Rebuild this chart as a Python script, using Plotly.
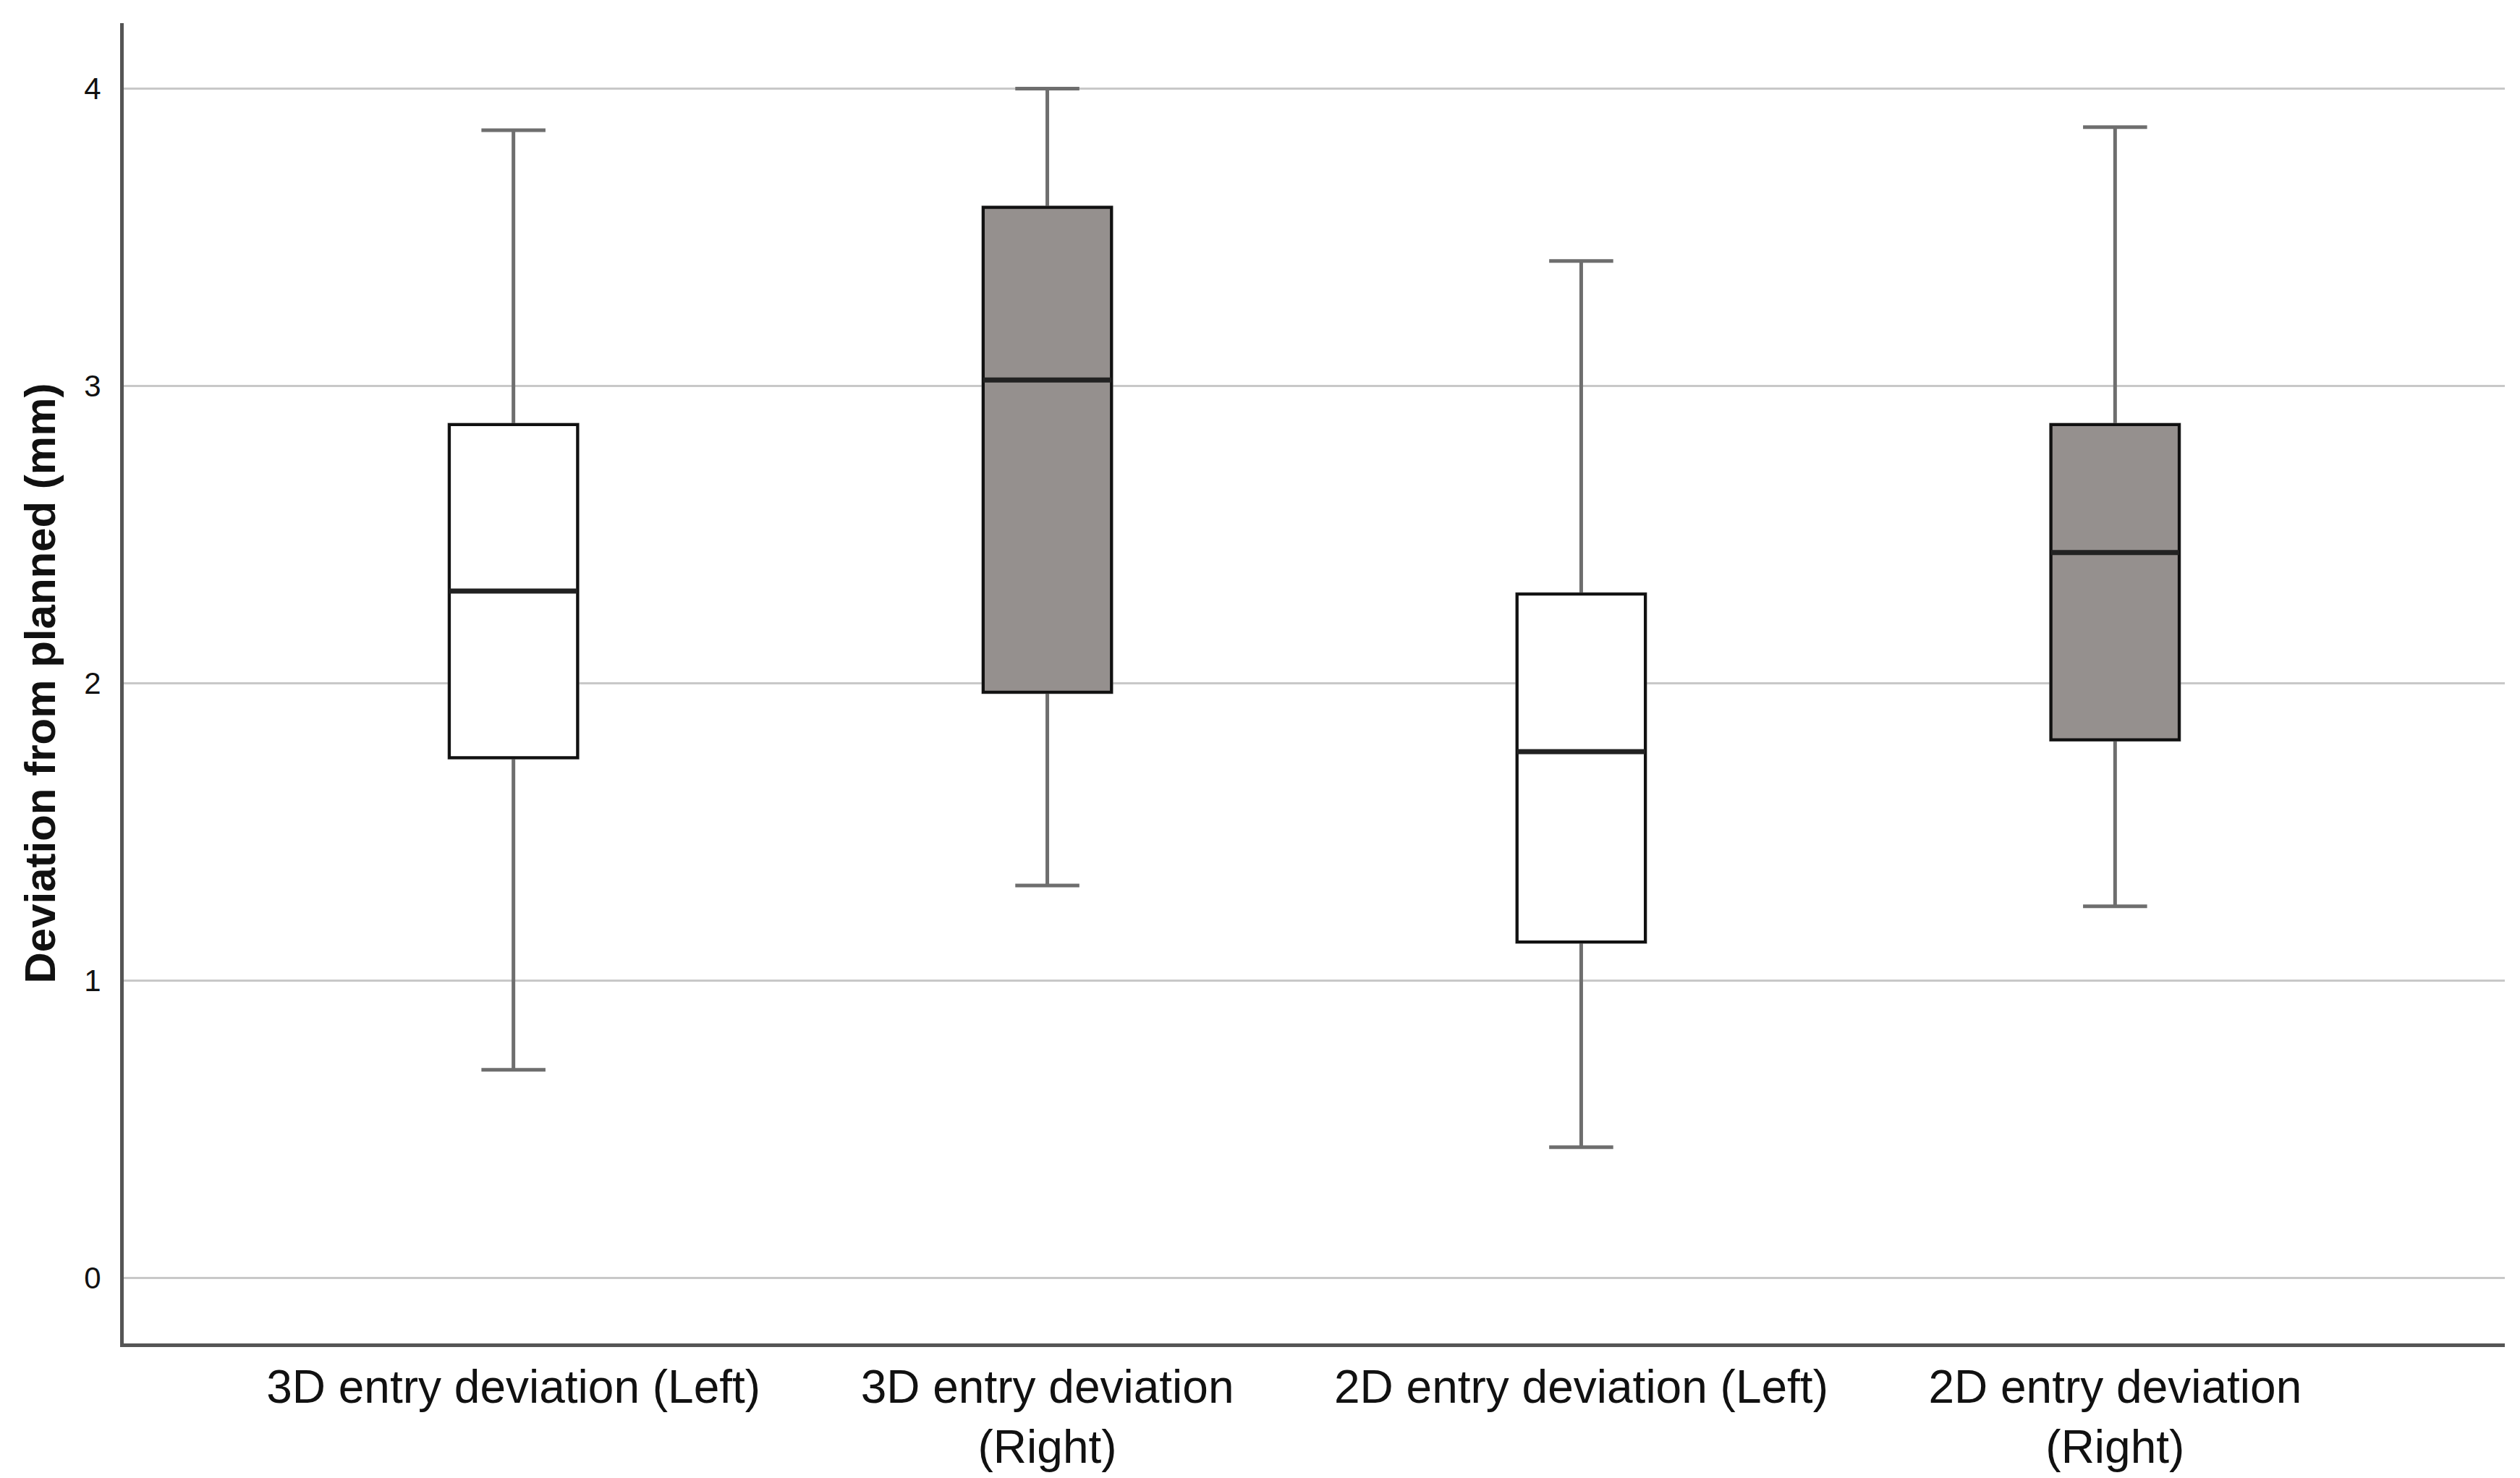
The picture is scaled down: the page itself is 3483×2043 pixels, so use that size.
import plotly.graph_objects as go

# Box summaries (mm)
categories = [
    "3D entry deviation (Left)",
    "3D entry deviation<br>(Right)",
    "2D entry deviation (Left)",
    "2D entry deviation<br>(Right)",
]
lower_whisker = [0.70, 1.32, 0.44, 1.25]
q1_values = [1.75, 1.97, 1.13, 1.81]
medians = [2.31, 3.02, 1.77, 2.44]
q3_values = [2.87, 3.60, 2.30, 2.87]
upper_whisker = [3.86, 4.00, 3.42, 3.87]
fill_colors = ["#ffffff", "#95908e", "#ffffff", "#95908e"]

FONT = "Liberation Sans, Arial, sans-serif"


def make_figure():
    fig = go.Figure()

    for i, cat in enumerate(categories):
        # whiskers and caps in grey
        fig.add_trace(go.Box(
            x=[cat], q1=[q1_values[i]], median=[medians[i]], q3=[q3_values[i]],
            lowerfence=[lower_whisker[i]], upperfence=[upper_whisker[i]],
            width=0.24, whiskerwidth=0.5,
            fillcolor=fill_colors[i],
            line=dict(color="#6e6e6e", width=5),
            boxpoints=False, showlegend=False, hoverinfo="skip",
        ))
        # box body with black outline
        fig.add_trace(go.Box(
            x=[cat], q1=[q1_values[i]], median=[medians[i]], q3=[q3_values[i]],
            lowerfence=[q1_values[i]], upperfence=[q3_values[i]],
            width=0.24, whiskerwidth=0,
            fillcolor=fill_colors[i],
            line=dict(color="#111111", width=4),
            boxpoints=False, showlegend=False,
        ))
        # thicker median line
        fig.add_trace(go.Box(
            x=[cat], q1=[medians[i]], median=[medians[i]], q3=[medians[i]],
            lowerfence=[medians[i]], upperfence=[medians[i]],
            width=0.24, whiskerwidth=0,
            fillcolor="rgba(0,0,0,0)",
            line=dict(color="#222222", width=7),
            boxpoints=False, showlegend=False, hoverinfo="skip",
        ))

    fig.update_layout(
        width=3483,
        height=2043,
        paper_bgcolor="white",
        plot_bgcolor="white",
        boxmode="overlay",
        margin=dict(l=163, r=29, t=24, b=194),
        font=dict(family=FONT, color="#111111"),
    )

    fig.update_xaxes(
        type="category",
        categoryorder="array",
        categoryarray=categories,
        range=[-0.73, 3.73],
        showline=True, linecolor="#555555", linewidth=5,
        showgrid=False, zeroline=False, ticks="",
        tickfont=dict(family=FONT, size=64, color="#111111"),
        automargin=False,
    )

    fig.update_yaxes(
        range=[-0.22, 4.22],
        tickvals=[0, 1, 2, 3, 4],
        showline=True, linecolor="#555555", linewidth=5,
        showgrid=True, gridcolor="#c8c8c8", gridwidth=3,
        zeroline=False, ticks="",
        ticklabelstandoff=18,
        tickfont=dict(family=FONT, size=42, color="#111111"),
        title=dict(
            text="<b>Deviation from planned (mm)</b>",
            font=dict(family=FONT, size=60, color="#111111"),
            standoff=22,
        ),
        automargin=False,
    )

    return fig


def main():
    fig = make_figure()
    fig.write_html("out.html")


if __name__ == "__main__":
    main()
